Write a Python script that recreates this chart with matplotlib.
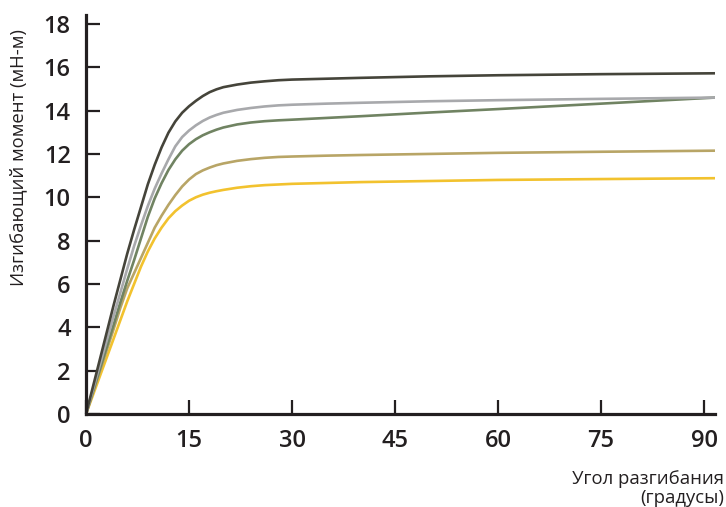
import matplotlib
matplotlib.use("Agg")
import matplotlib.pyplot as plt

plt.rcParams['font.family'] = ['Open Sans', 'DejaVu Sans']

angle = [0, 2, 4, 5, 6, 7, 8, 9, 10, 11, 12, 13, 14, 15, 16, 17, 18, 19, 20,
         22, 24, 26, 28, 30, 35, 40, 50, 60, 75, 91.6]

moment_dark = [0, 2.5, 5.0, 6.2, 7.4, 8.5, 9.55, 10.6, 11.5, 12.3, 12.98, 13.5, 13.9, 14.2, 14.45, 14.67, 14.85, 14.98, 15.08,
               15.2, 15.29, 15.35, 15.4, 15.43, 15.47, 15.51, 15.58, 15.63, 15.68, 15.72]
moment_grey = [0, 2.25, 4.5, 5.6, 6.7, 7.75, 8.7, 9.6, 10.4, 11.1, 11.75, 12.35, 12.78, 13.08, 13.32, 13.52, 13.68, 13.8, 13.9,
               14.03, 14.12, 14.19, 14.24, 14.27, 14.32, 14.36, 14.43, 14.48, 14.54, 14.6]
moment_green = [0, 2.05, 4.1, 5.15, 6.15, 7.1, 8.1, 9.1, 9.95, 10.65, 11.26, 11.75, 12.15, 12.45, 12.68, 12.86, 13.0, 13.12, 13.22,
                13.36, 13.45, 13.51, 13.55, 13.58, 13.66, 13.74, 13.91, 14.07, 14.32, 14.6]
moment_tan = [0, 1.95, 3.9, 4.9, 5.8, 6.5, 7.2, 7.9, 8.6, 9.15, 9.65, 10.1, 10.5, 10.82, 11.07, 11.24, 11.37, 11.48, 11.56,
              11.68, 11.76, 11.82, 11.86, 11.88, 11.92, 11.95, 12.0, 12.05, 12.1, 12.15]
moment_yellow = [0, 1.73, 3.46, 4.33, 5.2, 6.0, 6.8, 7.5, 8.1, 8.6, 9.03, 9.36, 9.62, 9.84, 10.0, 10.12, 10.21, 10.28, 10.34,
                 10.44, 10.51, 10.56, 10.59, 10.62, 10.66, 10.7, 10.75, 10.8, 10.84, 10.88]

series = [
    (moment_yellow, '#f2c22e'),
    (moment_tan, '#b8a566'),
    (moment_green, '#708362'),
    (moment_grey, '#a8a9ac'),
    (moment_dark, '#45443a'),
]

x_ticks = [0, 15, 30, 45, 60, 75, 90]
y_ticks = [0, 2, 4, 6, 8, 10, 12, 14, 16, 18]

ylabel = 'Изгибающий момент (мН-м)'
xlabel = 'Угол разгибания\n(градусы)'

ink = '#231f20'

fig = plt.figure(figsize=(7.26, 5.07), dpi=100)
ax = fig.add_axes([0.1185, 0.1834, 0.985 - 0.1185, 0.970 - 0.1834])

for vals, col in series:
    ax.plot(angle, vals, color=col, lw=1.9, solid_capstyle='butt', solid_joinstyle='round')

ax.set_xlim(0, 91.6)
ax.set_ylim(0, 18.4)
ax.set_xticks(x_ticks)
ax.set_yticks(y_ticks)

for s in ['top', 'right']:
    ax.spines[s].set_visible(False)
for s in ['left', 'bottom']:
    ax.spines[s].set_linewidth(2.3)
    ax.spines[s].set_color(ink)

ax.tick_params(direction='in', length=10, width=1.6, color=ink,
               labelsize=17, labelcolor=ink, pad=11)
for lab in ax.get_xticklabels() + ax.get_yticklabels():
    lab.set_fontweight('semibold')

fig.text(18 / 726, 1 - 158 / 507, ylabel, rotation=90, ha='center', va='center',
         fontsize=13.3, color=ink)
fig.text(724 / 726, 1 - 503 / 507, xlabel, ha='right', va='baseline',
         fontsize=13.3, color=ink, linespacing=1.1, multialignment='right')

fig.savefig('out.png', dpi=100)
